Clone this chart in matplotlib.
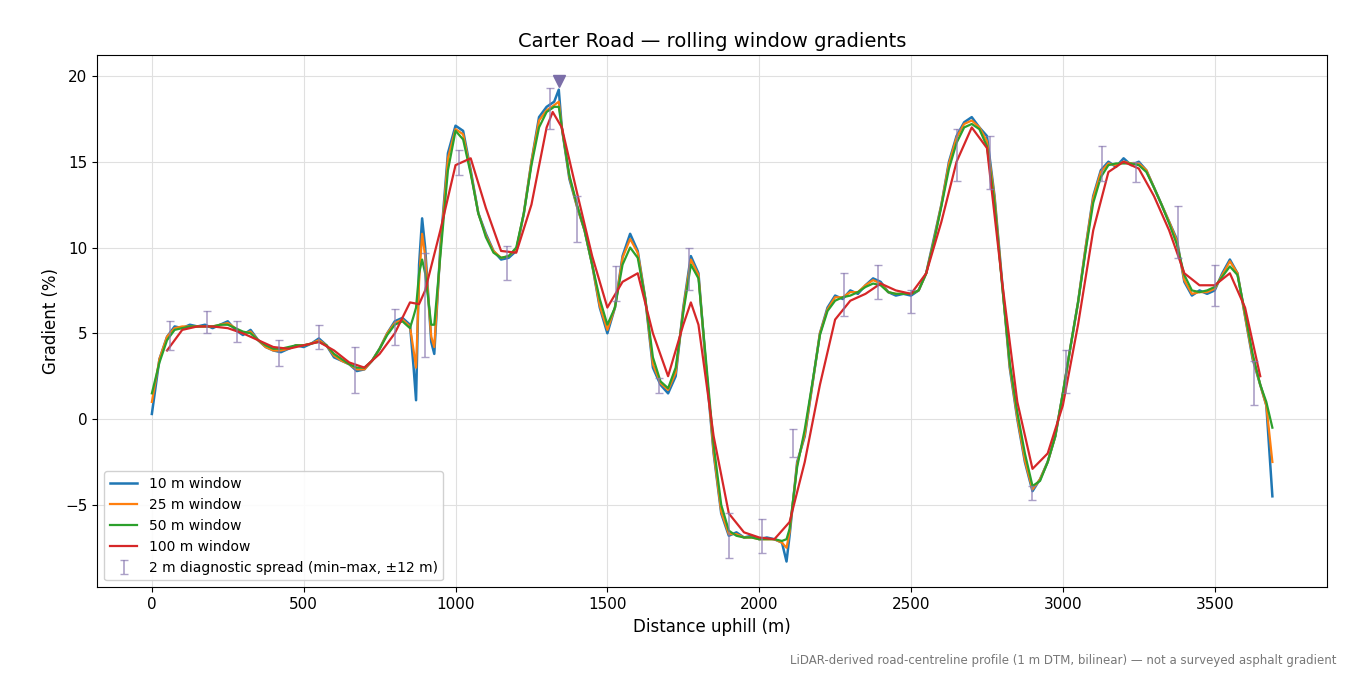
import numpy as np
import matplotlib.pyplot as plt

# shared distance grid (m) for the 10/25/50 m windows
xg = [0, 25, 50, 75, 100, 125, 150, 175, 200, 225, 250, 275, 300, 325, 350, 375, 400, 425, 450, 475,
      500, 525, 550, 575, 600, 625, 650, 675, 700, 725, 750, 775, 800, 825, 850, 862, 870, 880, 890, 900,
      920, 930, 950, 975, 1000, 1025, 1050, 1075, 1100, 1125, 1150, 1175, 1200, 1225, 1250, 1275, 1300,
      1325, 1340, 1350, 1375, 1400, 1425, 1450, 1475, 1500, 1525, 1550, 1575, 1600, 1625, 1650, 1675,
      1700, 1725, 1750, 1775, 1800, 1825, 1850, 1875, 1900, 1925, 1950, 1975, 2000, 2025, 2050, 2075,
      2090, 2100, 2125, 2150, 2175, 2200, 2225, 2250, 2275, 2300, 2325, 2350, 2375, 2400, 2425, 2450,
      2475, 2500, 2525, 2550, 2575, 2600, 2625, 2650, 2675, 2700, 2725, 2750, 2775, 2800, 2825, 2850,
      2875, 2900, 2925, 2950, 2975, 3000, 3025, 3050, 3075, 3100, 3125, 3150, 3175, 3200, 3225, 3250,
      3275, 3300, 3325, 3350, 3375, 3400, 3425, 3450, 3475, 3500, 3525, 3550, 3575, 3600, 3625, 3650,
      3670, 3690]
g10 = [0.3, 3.5, 4.8, 5.4, 5.3, 5.5, 5.4, 5.5, 5.3, 5.5, 5.7, 5.2, 4.9, 5.2, 4.6, 4.2, 4.0, 3.9, 4.1, 4.3,
       4.2, 4.4, 4.7, 4.3, 3.6, 3.4, 3.2, 2.8, 2.9, 3.4, 4.1, 5.0, 5.7, 5.9, 5.5, 3.0, 1.1, 9.0, 11.7, 10.0,
       4.5, 3.8, 10.0, 15.5, 17.1, 16.8, 14.5, 12.0, 10.8, 9.8, 9.3, 9.4, 9.8, 12.0, 15.0, 17.6, 18.2,
       18.5, 19.2, 17.0, 14.0, 12.4, 11.0, 9.0, 6.5, 5.0, 6.5, 9.5, 10.8, 9.8, 7.0, 3.0, 2.0,
       1.5, 2.5, 6.5, 9.5, 8.5, 3.0, -2.0, -5.5, -6.8, -6.6, -6.9, -6.8, -7.0, -6.9, -7.0, -7.2,
       -8.3, -6.8, -2.5, -1.0, 2.0, 5.0, 6.5, 7.2, 7.0, 7.5, 7.3, 7.8, 8.2, 8.0, 7.4, 7.2,
       7.3, 7.2, 7.5, 8.5, 10.5, 12.5, 15.0, 16.5, 17.3, 17.6, 17.0, 16.5, 13.0, 8.0, 3.0, 0.0,
       -2.5, -4.2, -3.5, -2.5, -1.0, 1.5, 4.2, 6.8, 10.0, 13.0, 14.5, 15.0, 14.7, 15.2, 14.8, 15.0,
       14.5, 13.5, 12.5, 11.5, 10.5, 8.0, 7.2, 7.5, 7.3, 7.5, 8.5, 9.3, 8.5, 6.0, 3.5, 2.0,
       0.8, -4.5]
g25 = [1.0, 3.5, 4.8, 5.3, 5.4, 5.4, 5.4, 5.4, 5.4, 5.5, 5.6, 5.3, 5.0, 5.1, 4.6, 4.2, 4.0, 4.0, 4.1, 4.3,
       4.3, 4.4, 4.6, 4.3, 3.7, 3.4, 3.2, 2.9, 2.9, 3.4, 4.1, 5.0, 5.6, 5.8, 5.4, 4.0, 3.0, 8.0, 10.8, 9.5,
       4.8, 4.2, 9.8, 15.2, 16.9, 16.6, 14.4, 12.0, 10.7, 9.8, 9.4, 9.5, 9.9, 12.0, 15.0, 17.4, 18.0,
       18.3, 18.5, 17.0, 14.1, 12.4, 11.0, 9.0, 6.6, 5.2, 6.5, 9.4, 10.5, 9.7, 7.0, 3.2, 2.1,
       1.7, 2.7, 6.4, 9.3, 8.4, 3.1, -1.9, -5.4, -6.7, -6.7, -6.9, -6.9, -7.0, -7.0, -7.0, -7.2,
       -7.5, -6.6, -2.6, -0.9, 2.0, 5.0, 6.4, 7.1, 7.1, 7.4, 7.4, 7.8, 8.1, 7.9, 7.4, 7.3,
       7.3, 7.3, 7.5, 8.5, 10.4, 12.5, 14.9, 16.4, 17.2, 17.4, 17.0, 16.2, 12.9, 7.9, 3.1, 0.1,
       -2.4, -4.1, -3.5, -2.5, -1.0, 1.5, 4.2, 6.8, 10.0, 12.9, 14.4, 14.9, 14.8, 15.0, 14.9, 14.9,
       14.5, 13.5, 12.5, 11.5, 10.4, 8.1, 7.3, 7.4, 7.4, 7.6, 8.4, 9.2, 8.5, 6.0, 3.6, 2.0,
       0.8, -2.5]
g50 = [1.5, 3.3, 4.6, 5.2, 5.3, 5.4, 5.4, 5.4, 5.4, 5.5, 5.5, 5.3, 5.1, 5.0, 4.6, 4.3, 4.1, 4.1, 4.2, 4.3,
       4.3, 4.4, 4.5, 4.3, 3.8, 3.5, 3.2, 3.0, 3.0, 3.4, 4.1, 4.9, 5.5, 5.7, 5.3, 6.0, 6.5, 8.5, 9.3, 8.5,
       5.5, 5.5, 9.5, 14.5, 16.8, 16.3, 14.3, 12.0, 10.6, 9.7, 9.4, 9.5, 10.0, 12.0, 14.8, 17.0, 17.9,
       18.2, 18.2, 17.0, 14.2, 12.5, 11.0, 9.0, 7.0, 5.5, 6.5, 9.0, 10.0, 9.4, 7.0, 3.6, 2.2,
       1.8, 3.0, 6.2, 9.0, 8.2, 3.4, -1.5, -5.0, -6.5, -6.8, -6.9, -6.9, -7.0, -7.0, -7.0, -7.1,
       -7.0, -6.4, -2.8, -0.6, 2.1, 4.9, 6.3, 6.9, 7.1, 7.2, 7.4, 7.7, 7.9, 7.8, 7.4, 7.3,
       7.3, 7.3, 7.5, 8.5, 10.3, 12.4, 14.6, 16.1, 17.0, 17.2, 16.9, 15.9, 12.6, 7.8, 3.3, 0.4,
       -2.0, -3.9, -3.6, -2.5, -1.0, 1.5, 4.2, 6.8, 9.8, 12.6, 14.1, 14.8, 14.9, 14.9, 14.9, 14.8,
       14.4, 13.5, 12.5, 11.4, 10.2, 8.4, 7.5, 7.4, 7.5, 7.7, 8.3, 8.9, 8.4, 6.2, 3.8, 2.0,
       1.0, -0.5]

# 100 m window
x100 = [50, 100, 150, 200, 250, 300, 350, 400, 450, 500, 550, 600, 650, 700, 750, 800, 850, 880, 900,
        950, 1000, 1050, 1100, 1150, 1200, 1250, 1300, 1320, 1350, 1400, 1450, 1500, 1550, 1600, 1650,
        1700, 1750, 1775, 1800, 1850, 1900, 1950, 2000, 2050, 2100, 2150, 2200, 2250, 2300, 2350, 2400,
        2450, 2500, 2550, 2600, 2650, 2700, 2750, 2800, 2850, 2900, 2950, 3000, 3050, 3100, 3150, 3200,
        3250, 3300, 3350, 3400, 3450, 3500, 3550, 3600, 3650]
g100 = [4.0, 5.2, 5.4, 5.4, 5.3, 5.0, 4.6, 4.2, 4.1, 4.3, 4.5, 4.0, 3.3, 3.0, 3.8, 5.0, 6.8, 6.7, 7.5,
        11.0, 14.8, 15.2, 12.3, 9.8, 9.7, 12.5, 17.0, 17.9, 17.0, 13.2, 9.5, 6.5, 8.0, 8.5, 5.0,
        2.5, 5.5, 6.8, 5.5, -1.0, -5.5, -6.6, -6.9, -7.0, -6.0, -2.5, 2.0, 5.8, 6.9, 7.3, 7.9,
        7.5, 7.3, 8.5, 11.5, 15.0, 17.0, 15.8, 8.0, 1.0, -2.9, -2.0, 0.8, 5.5, 11.0, 14.4, 15.0,
        14.6, 13.0, 11.0, 8.5, 7.8, 7.8, 8.5, 6.5, 2.5]

# 2 m diagnostic spread markers: position, min, max
eb_x = [60, 180, 280, 420, 550, 670, 800, 900, 1010, 1170, 1310, 1400, 1530, 1670, 1770, 1900, 2010,
        2110, 2280, 2390, 2500, 2650, 2760, 2900, 3010, 3130, 3240, 3380, 3500, 3630]
eb_lo = [4.0, 5.0, 4.5, 3.1, 4.1, 1.5, 4.3, 3.6, 14.2, 8.1, 16.9, 10.3, 6.9, 1.5, 7.5, -8.1, -7.8,
         -2.2, 6.0, 7.0, 6.2, 13.9, 13.4, -4.7, 1.5, 13.9, 13.8, 9.4, 6.6, 0.8]
eb_hi = [5.7, 6.3, 5.7, 4.6, 5.5, 4.2, 6.4, 9.7, 15.7, 10.1, 19.3, 13.0, 8.9, 2.4, 10.0, -5.5, -5.8,
         -0.6, 8.5, 9.0, 7.5, 16.9, 16.5, -3.9, 4.0, 15.9, 15.0, 12.4, 9.0, 3.4]
peak_x, peak_y = 1340, 19.7

fig, ax = plt.subplots(figsize=(13.5, 6.75), dpi=100)
ax.plot(xg, g10, color='#1f77b4', lw=1.8, label='10 m window')
ax.plot(xg, g25, color='#ff7f0e', lw=1.6, label='25 m window')
ax.plot(xg, g50, color='#2ca02c', lw=1.6, label='50 m window')
ax.plot(x100, g100, color='#d62728', lw=1.6, label='100 m window')

lo, hi = np.array(eb_lo), np.array(eb_hi)
mid = (lo + hi) / 2
ax.errorbar(eb_x, mid, yerr=[mid - lo, hi - mid], fmt='none', ecolor='#8878b0', alpha=0.7,
            elinewidth=1.2, capsize=3, label='2 m diagnostic spread (min–max, ±12 m)')
ax.plot([peak_x], [peak_y], marker='v', color='#7b6ea8', markersize=8, ls='none')

ax.set_xlim(-180, 3870)
ax.set_ylim(-9.8, 21.2)
ax.set_xticks([0, 500, 1000, 1500, 2000, 2500, 3000, 3500])
ax.set_yticks([-5, 0, 5, 10, 15, 20])
ax.tick_params(labelsize=11)
ax.grid(True, color='#e0e0e0', lw=0.8)
ax.set_xlabel('Distance uphill (m)', fontsize=12)
ax.set_ylabel('Gradient (%)', fontsize=12)
ax.set_title('Carter Road — rolling window gradients', fontsize=14)
ax.legend(loc='lower left', fontsize=10, framealpha=0.9)
fig.text(0.99, 0.012, 'LiDAR-derived road-centreline profile (1 m DTM, bilinear) — not a surveyed asphalt gradient',
         ha='right', va='bottom', fontsize=8.5, color='#777777')
fig.subplots_adjust(left=0.072, right=0.983, top=0.918, bottom=0.13)
fig.savefig('out.png', dpi=100)
